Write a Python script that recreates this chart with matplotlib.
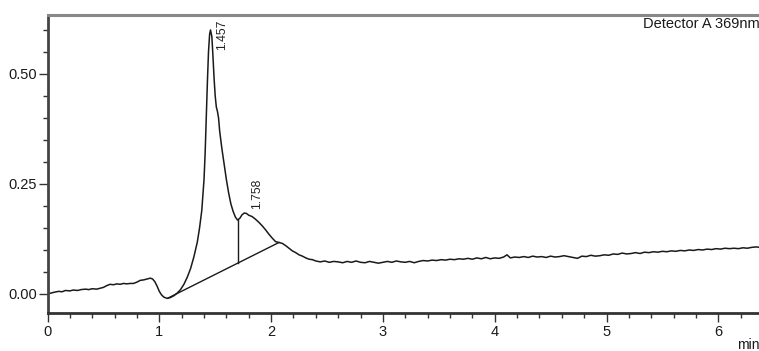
import matplotlib
matplotlib.use("Agg")
import matplotlib.pyplot as plt
from matplotlib.ticker import MultipleLocator, FixedLocator

plt.rcParams['font.family'] = ['Liberation Sans', 'DejaVu Sans']

# Chromatogram trace (time in min, absorbance)
time_min = [0.00, 0.03, 0.06, 0.10, 0.13, 0.16, 0.20, 0.23, 0.27, 0.30, 0.34, 0.37, 0.40, 0.44, 0.47,
            0.50, 0.53, 0.56, 0.59, 0.62, 0.65, 0.68, 0.71, 0.74, 0.77, 0.80, 0.83, 0.86, 0.89, 0.92,
            0.94, 0.96, 0.98, 1.00, 1.02, 1.04, 1.07, 1.10, 1.13, 1.16, 1.19, 1.22, 1.25, 1.28, 1.31,
            1.34, 1.36, 1.38, 1.40, 1.41, 1.42, 1.43, 1.44, 1.45, 1.458, 1.47, 1.48, 1.49, 1.50, 1.51,
            1.52, 1.53, 1.54, 1.56, 1.58, 1.60, 1.62, 1.64, 1.66, 1.68, 1.70, 1.72, 1.74, 1.76, 1.78,
            1.80, 1.83, 1.86, 1.89, 1.92, 1.95, 1.98, 2.01, 2.04, 2.07, 2.10, 2.13, 2.16, 2.19, 2.22,
            2.25, 2.28, 2.31, 2.34, 2.37, 2.40, 2.44, 2.48, 2.52, 2.56, 2.60, 2.64, 2.68, 2.72, 2.76,
            2.80, 2.84, 2.88, 2.92, 2.96, 3.00, 3.04, 3.08, 3.12, 3.16, 3.20, 3.24, 3.28, 3.32, 3.36,
            3.40, 3.44, 3.48, 3.52, 3.56, 3.60, 3.64, 3.68, 3.72, 3.76, 3.80, 3.84, 3.88, 3.92, 3.96,
            4.00, 4.04, 4.08, 4.11, 4.14, 4.18, 4.22, 4.26, 4.30, 4.34, 4.38, 4.42, 4.46, 4.50, 4.54,
            4.58, 4.62, 4.66, 4.70, 4.74, 4.78, 4.82, 4.86, 4.90, 4.94, 4.98, 5.02, 5.06, 5.10, 5.14,
            5.18, 5.22, 5.26, 5.30, 5.34, 5.38, 5.42, 5.46, 5.50, 5.54, 5.58, 5.62, 5.66, 5.70, 5.74,
            5.78, 5.82, 5.86, 5.90, 5.94, 5.98, 6.02, 6.06, 6.10, 6.14, 6.18, 6.22, 6.26, 6.30, 6.34,
            6.37]
absorbance = [0.000, 0.002, 0.004, 0.006, 0.005, 0.008, 0.007, 0.009, 0.008, 0.010, 0.011, 0.010, 0.012, 0.011, 0.013,
              0.015, 0.019, 0.022, 0.021, 0.023, 0.022, 0.024, 0.023, 0.024, 0.024, 0.027, 0.031, 0.032, 0.034, 0.036,
              0.034, 0.028, 0.018, 0.006, -0.002, -0.007, -0.010, -0.008, -0.004, 0.002, 0.010, 0.022, 0.038, 0.058, 0.085,
              0.118, 0.150, 0.190, 0.260, 0.320, 0.400, 0.480, 0.550, 0.590, 0.600, 0.585, 0.540, 0.490, 0.450, 0.425,
              0.415, 0.400, 0.370, 0.330, 0.295, 0.260, 0.230, 0.205, 0.188, 0.175, 0.168, 0.172, 0.180, 0.184, 0.183,
              0.179, 0.176, 0.170, 0.163, 0.155, 0.146, 0.136, 0.127, 0.119, 0.117, 0.115, 0.110, 0.104, 0.098, 0.094,
              0.089, 0.086, 0.082, 0.079, 0.078, 0.075, 0.073, 0.075, 0.072, 0.074, 0.073, 0.071, 0.074, 0.072, 0.075,
              0.072, 0.071, 0.074, 0.072, 0.070, 0.072, 0.074, 0.072, 0.075, 0.073, 0.072, 0.074, 0.071, 0.074, 0.076,
              0.075, 0.077, 0.076, 0.078, 0.077, 0.079, 0.078, 0.080, 0.079, 0.081, 0.079, 0.082, 0.080, 0.083, 0.080,
              0.082, 0.081, 0.084, 0.089, 0.082, 0.084, 0.083, 0.085, 0.083, 0.086, 0.084, 0.085, 0.083, 0.086, 0.084,
              0.085, 0.087, 0.085, 0.083, 0.081, 0.086, 0.085, 0.088, 0.086, 0.087, 0.089, 0.088, 0.091, 0.090, 0.093,
              0.091, 0.092, 0.094, 0.092, 0.095, 0.094, 0.096, 0.095, 0.097, 0.096, 0.098, 0.097, 0.099, 0.098, 0.100,
              0.099, 0.101, 0.100, 0.102, 0.101, 0.103, 0.102, 0.104, 0.103, 0.104, 0.103, 0.105, 0.104, 0.106, 0.107,
              0.106]

# Peak annotations
peak_times = [1.457, 1.758]
peak_labels = ["1.457", "1.758"]
label_pos_x = [1.562, 1.876]
label_pos_y = [0.555, 0.194]

# Integration baseline and drop line
baseline_t = [1.08, 2.07]
baseline_v = [-0.009, 0.117]
drop_t = 1.70
drop_top = 0.168

fig = plt.figure(figsize=(7.59, 3.51), dpi=100)
ax = fig.add_axes([47.5 / 759, 38 / 351, 1 - 47.5 / 759, 298 / 351])

ax.plot(time_min, absorbance, color='#1a1a1a', lw=1.1)
ax.plot(baseline_t, baseline_v, color='#1a1a1a', lw=1.0)
drop_bot = baseline_v[0] + (drop_t - baseline_t[0]) * (baseline_v[1] - baseline_v[0]) / (baseline_t[1] - baseline_t[0])
ax.plot([drop_t, drop_t], [drop_bot, drop_top], color='#1a1a1a', lw=1.0)

for x, y, lab in zip(label_pos_x, label_pos_y, peak_labels):
    ax.text(x, y, lab, rotation=90, ha='center', va='bottom', fontsize=8.8, color='#222222')

ax.set_xlim(0, (759 - 47.5) / 111.8)
ax.set_ylim(-0.0432, 0.634)

ax.xaxis.set_major_locator(FixedLocator([0, 1, 2, 3, 4, 5, 6]))
ax.xaxis.set_minor_locator(MultipleLocator(0.2))
ax.yaxis.set_major_locator(FixedLocator([0.0, 0.25, 0.5]))
ax.yaxis.set_minor_locator(MultipleLocator(0.05))
ax.set_yticklabels(["0.00", "0.25", "0.50"])
ax.set_xticklabels(["0", "1", "2", "3", "4", "5", "6"])

ax.tick_params(axis='both', which='major', direction='out', length=6.5, width=1.0,
               color='#333333', labelsize=10.5, labelcolor='#1a1a1a')
ax.tick_params(axis='both', which='minor', direction='out', length=3.3, width=1.0, color='#333333')
ax.tick_params(axis='x', which='major', pad=2)
ax.tick_params(axis='y', which='major', pad=1)

ax.spines['right'].set_visible(False)
ax.spines['left'].set_color('#444444')
ax.spines['left'].set_linewidth(2.0)
ax.spines['bottom'].set_color('#333333')
ax.spines['bottom'].set_linewidth(2.0)
ax.spines['top'].set_color('#888888')
ax.spines['top'].set_linewidth(2.2)

fig.text(643 / 759, 1 - 17 / 351, "Detector A 369nm", ha='left', va='top', fontsize=10.5, color='#1a1a1a')
fig.text(737 / 759, 1 - 338 / 351, "min", ha='left', va='top', fontsize=10, color='#1a1a1a')

fig.savefig("out.png", dpi=100)
